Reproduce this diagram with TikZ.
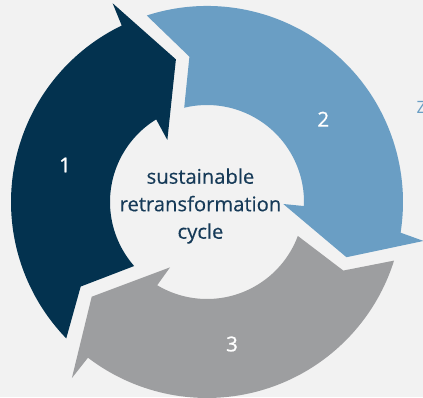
\documentclass[tikz,border=0pt]{standalone}
\usepackage{fontspec}
\setmainfont{Open Sans}
\newfontfamily\semibnum[FakeBold=0.9]{Open Sans}
\newfontfamily\semibtxt[FakeBold=0.35]{Open Sans}
\usetikzlibrary{calc}
\definecolor{bgc}{HTML}{F2F2F2}
\definecolor{navyc}{HTML}{03324F}
\definecolor{bluec}{HTML}{6A9EC4}
\definecolor{grayc}{HTML}{9D9EA0}
\definecolor{textc}{HTML}{163A58}
\tikzset{
  numlabel/.style={text=white, font=\semibnum\fontsize{20.5}{22}\selectfont, inner sep=0pt},
  centerlabel/.style={text=textc, align=center, inner sep=0pt, font=\semibtxt\fontsize{20.2}{27.5}\selectfont},
}
\begin{document}
\begin{tikzpicture}[x=1pt,y=1pt]
\useasboundingbox (0,0) rectangle (423,397);
\fill[bgc] (0,0) rectangle (423,397);
\coordinate (C) at (207,195);
% arrow 1 (dark)
\fill[navyc] ($(C)+(224.1:196pt)$) arc[start angle=224.1, end angle=115.8, radius=196pt]
  -- ($(C)+(115.4:220pt)$) -- ($(C)+(102.3:146pt)$) -- ($(C)+(122.6:73.6pt)$)
  -- ($(C)+(121.6:97pt)$) arc[start angle=121.6, end angle=221.3, radius=97pt]
  -- ($(C)+(213.8:152pt)$) -- cycle;
% arrow 2 (blue)
\fill[bluec] ($(C)+(107.9:196pt)$) arc[start angle=107.9, end angle=-9.0, radius=196pt]
  -- ($(C)+(-10.2:220pt)$) -- ($(C)+(-21.6:150pt)$) -- ($(C)+(-1.5:76.3pt)$)
  -- ($(C)+(-2.4:97pt)$) arc[start angle=-2.4, end angle=103.6, radius=97pt]
  -- ($(C)+(96.9:146.4pt)$) -- cycle;
% arrow 3 (gray)
\fill[grayc] ($(C)+(-17.4:196pt)$) arc[start angle=-17.4, end angle=-127.4, radius=196pt]
  -- ($(C)+(-127.5:222pt)$) -- ($(C)+(-140.6:149.2pt)$) -- ($(C)+(-119.5:75.1pt)$)
  -- ($(C)+(-120.9:97pt)$) arc[start angle=-120.9, end angle=-20.5, radius=97pt]
  -- ($(C)+(-26.7:152.6pt)$) -- cycle;
\node[numlabel] (n1) at (65,232) {1};
\node[numlabel] (n2) at (323.3,277.8) {2};
\node[numlabel] (n3) at (232,53) {3};
\node[centerlabel] (center) at (200.5,191) {sustainable\\retransformation\\cycle};
\node[anchor=south west, text=bluec, inner sep=0pt, font=\fontsize{17}{19}\selectfont] (z) at (416.5,283) {Z};
\end{tikzpicture}
\end{document}
